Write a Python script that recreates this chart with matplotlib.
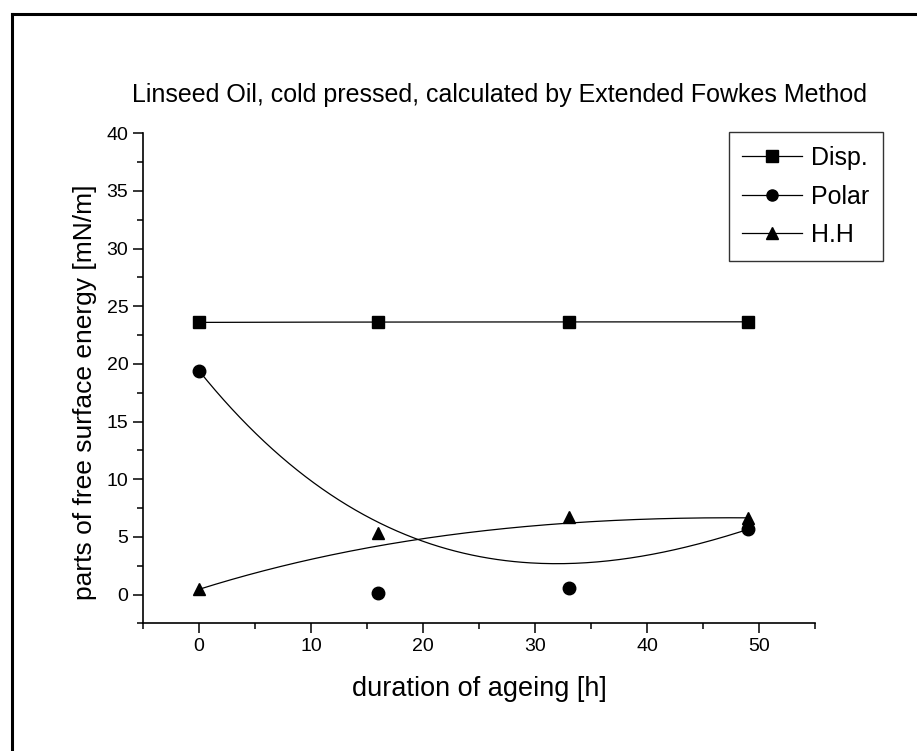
import numpy as np
import matplotlib.pyplot as plt
from matplotlib.lines import Line2D
from matplotlib.ticker import MultipleLocator
from math import comb

plt.rcParams['font.family'] = ['Liberation Sans', 'DejaVu Sans']

hours = [0, 16, 33, 49]
disp = [23.6, 23.65, 23.63, 23.65]
polar = [19.4, 0.1, 0.6, 5.65]
hh = [0.45, 5.35, 6.75, 6.65]


def bezier(xs, ys, n=200):
    # Origin-style B-spline: data points act as Bezier control points
    t = np.linspace(0, 1, n)
    m = len(xs) - 1
    bx = np.zeros(n)
    by = np.zeros(n)
    for i in range(m + 1):
        b = comb(m, i) * t**i * (1 - t)**(m - i)
        bx += b * xs[i]
        by += b * ys[i]
    return bx, by


fig = plt.figure(figsize=(9.17, 7.51), dpi=100)
ax = fig.add_axes([0.156, 0.170, 0.733, 0.6525])

series = [(disp, 's', 'Disp.'), (polar, 'o', 'Polar'), (hh, '^', 'H.H')]
handles = []
for vals, mk, name in series:
    cx, cy = bezier(hours, vals)
    ax.plot(cx, cy, color='black', lw=0.9)
    ax.plot(hours, vals, ls='none', marker=mk, ms=9, color='black')
    handles.append(Line2D([], [], color='black', lw=0.9, marker=mk, ms=8, label=name))

ax.set_xlim(-5, 55)
ax.set_ylim(-2.5, 40)
ax.xaxis.set_minor_locator(MultipleLocator(5))
ax.yaxis.set_minor_locator(MultipleLocator(2.5))
ax.set_xticks([0, 10, 20, 30, 40, 50])
ax.set_yticks([0, 5, 10, 15, 20, 25, 30, 35, 40])
ax.tick_params(which='major', direction='out', length=7, width=1.1, labelsize=14)
ax.tick_params(which='minor', direction='out', length=4, width=1.1)
for s in ['top', 'right']:
    ax.spines[s].set_visible(False)
for s in ['left', 'bottom']:
    ax.spines[s].set_linewidth(1.2)

ax.set_xlabel('duration of ageing [h]', fontsize=19.5, labelpad=15)
ax.set_ylabel('parts of free surface energy [mN/m]', fontsize=19)
ax.yaxis.set_label_coords(-0.068, 0.472)
fig.text(0.545, 0.8735, 'Linseed Oil, cold pressed, calculated by Extended Fowkes Method',
         fontsize=18, ha='center', va='center')

leg = ax.legend(handles=handles, loc='upper right', bbox_to_anchor=(1.101, 1.002),
                borderaxespad=0, fontsize=18, frameon=True, fancybox=False,
                edgecolor='black', handlelength=2.4,
                handletextpad=0.35, borderpad=0.55, labelspacing=0.58)
leg.get_frame().set_linewidth(1.0)

# outer frame (only left and top edges visible in the page crop)
fig.add_artist(Line2D([12 / 917, 12 / 917], [0, 1 - 14 / 751], transform=fig.transFigure,
                      color='black', lw=2.2))
fig.add_artist(Line2D([12 / 917, 1], [1 - 14 / 751, 1 - 14 / 751], transform=fig.transFigure,
                      color='black', lw=2.2))

fig.savefig('out.png', dpi=100)
